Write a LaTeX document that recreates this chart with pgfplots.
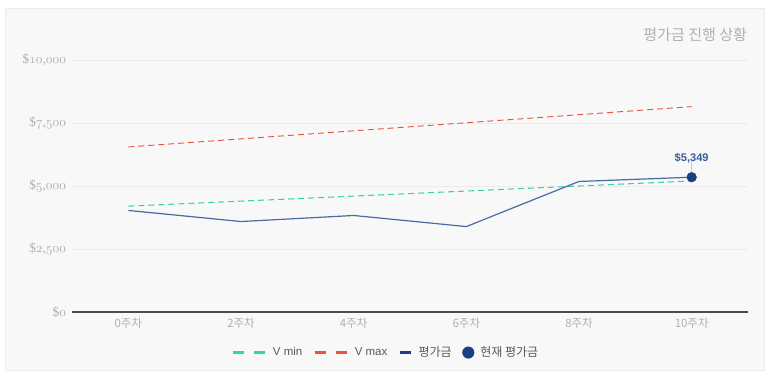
\documentclass[border=0pt]{standalone}
\usepackage{fontspec}
\usepackage{pgfplots}
\pgfplotsset{compat=1.18}
\setmainfont{Noto Sans CJK KR}
\newfontfamily\numfont{Liberation Serif}
\newfontfamily\lblfont{Liberation Sans}
\definecolor{bgpanel}{HTML}{F8F8F8}
\definecolor{panelborder}{HTML}{ECECEC}
\definecolor{gridc}{HTML}{EBEBEB}
\definecolor{ticklab}{HTML}{B0B0B0}
\definecolor{vmin}{HTML}{3DD39F}
\definecolor{vmax}{HTML}{E8533F}
\definecolor{navyline}{HTML}{4A6AA5}
\definecolor{navy}{HTML}{1B3F86}
\definecolor{labnavy}{HTML}{3A5C9A}
\newcommand{\osn}[1]{$\mathnormal{#1}$}
\begin{document}
\begin{tikzpicture}
\useasboundingbox (0,0) rectangle (579.75pt,284.25pt);
\fill[white] (0,0) rectangle (579.75pt,284.25pt);
\filldraw[fill=bgpanel,draw=panelborder,line width=0.6pt] (3.75pt,6.75pt) rectangle (573pt,278.25pt);
\node[anchor=east,inner sep=0pt,text=ticklab,font=\fontsize{11.3}{13}\selectfont] at (560.5pt,258.5pt) {평가금 진행 상황};
\begin{axis}[
  at={(54pt,50.25pt)}, anchor=south west,
  scale only axis,
  width=507pt, height=189pt,
  xmin=-0.5, xmax=5.5,
  ymin=0, ymax=10000,
  axis line style={draw=none},
  axis x line*=bottom,
  axis y line*=left,
  x axis line style={draw=black!70, line width=0.9pt},
  scaled ticks=false,
  xtick={0,1,2,3,4,5},
  xticklabels={0주차,2주차,4주차,6주차,8주차,10주차},
  ytick={0,2500,5000,7500,10000},
  yticklabels={{\$\osn{0}},{\$\osn{2},\osn{500}},{\$\osn{5},\osn{000}},{\$\osn{7},\osn{500}},{\$\osn{10},\osn{000}}},
  major tick length=0pt,
  ymajorgrids,
  grid style={gridc, line width=0.5pt},
  ticklabel style={text=ticklab},
  x tick label style={font=\fontsize{8.6}{9}\selectfont, yshift=-1pt},
  y tick label style={font=\numfont\fontsize{10}{11}\selectfont, xshift=-1pt},
  clip=false,
  legend style={
    at={(0.5,-0.115)}, anchor=north, xshift=-18pt,
    draw=none, fill=none,
    legend columns=4,
    font=\lblfont\fontsize{8.6}{9}\selectfont,
    text=black!65,
    /tikz/every odd column/.append style={column sep=2.5pt},
    /tikz/every even column/.append style={column sep=6pt},
  },
]
\addplot[vmin, line width=0.8pt, dash pattern=on 4.5pt off 3pt, forget plot] coordinates {(0,4200) (1,4400) (2,4600) (3,4800) (4,5000) (5,5200)};
\addplot[vmax, line width=0.7pt, dash pattern=on 4.5pt off 3pt, forget plot] coordinates {(0,6550) (1,6870) (2,7190) (3,7510) (4,7830) (5,8150)};
\addplot[navyline, line width=0.9pt, forget plot] coordinates {(0,4030) (1,3590) (2,3830) (3,3390) (4,5180) (5,5349)};
\addplot[draw=black!20, line width=0.4pt, forget plot] coordinates {(5,5349) (5,6000)};
\addplot[only marks, mark=*, mark size=3.6pt, navy, forget plot,
  nodes near coords={\$5,349}, point meta=explicit symbolic,
  nodes near coords style={font=\lblfont\bfseries\fontsize{8.3}{9}\selectfont, text=labnavy, anchor=south, yshift=7pt}]
  coordinates {(5,5349) [\$5,349]};
% legend entries
\addlegendimage{legend image code/.code={\draw[vmin, line width=2.4pt] (0pt,0pt) -- (8.5pt,0pt); \draw[vmin, line width=2.4pt] (16pt,0pt) -- (24.5pt,0pt);}}
\addlegendentry{V min}
\addlegendimage{legend image code/.code={\draw[vmax, line width=2.4pt] (0pt,0pt) -- (8.5pt,0pt); \draw[vmax, line width=2.4pt] (16pt,0pt) -- (24.5pt,0pt);}}
\addlegendentry{V max}
\addlegendimage{legend image code/.code={\draw[navy, line width=2.4pt] (0pt,0pt) -- (8.5pt,0pt);}}
\addlegendentry{\rmfamily\fontsize{9}{10}\selectfont 평가금}
\addlegendimage{legend image code/.code={\fill[navy] (4.5pt,0pt) circle (4.3pt);}}
\addlegendentry{\rmfamily\fontsize{9}{10}\selectfont 현재 평가금}
\end{axis}
\end{tikzpicture}
\end{document}
